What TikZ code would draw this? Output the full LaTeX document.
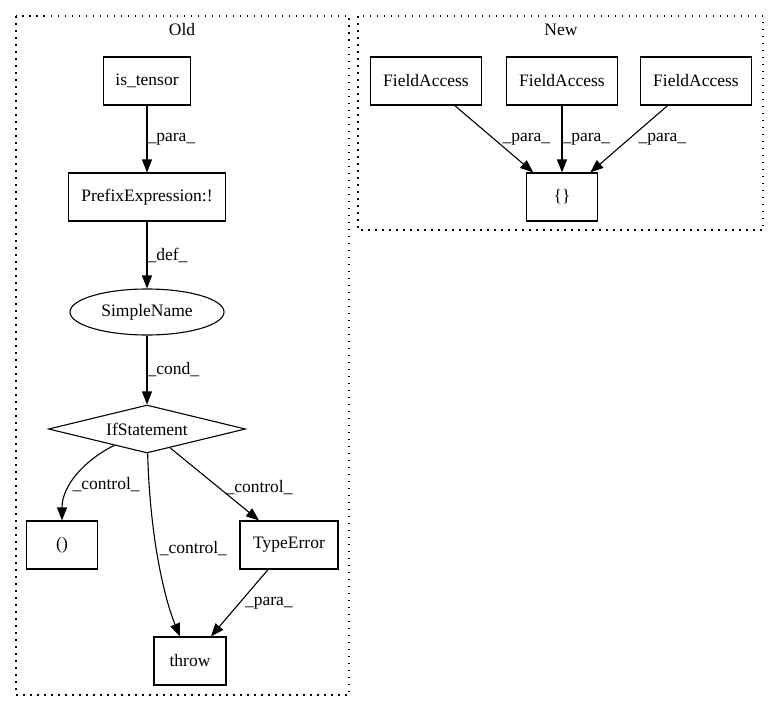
\documentclass[tikz,border=0pt]{standalone}
\usepackage{fontspec}
\setmainfont{Liberation Serif}
\usetikzlibrary{shapes.geometric,arrows.meta}

\begin{document}
\begin{tikzpicture}[x=1pt,y=-1pt,font=\fontsize{17.5}{20}\selectfont,line width=1.1pt,
 box/.style={draw, minimum height=48pt, inner sep=0pt},
 cluster/.style={draw, line width=1.1pt, dash pattern=on 1.5pt off 5.5pt},
 lbl/.style={anchor=west, inner sep=0pt},
 >={Triangle[length=13pt,width=10pt]}]
\useasboundingbox (0,0) rectangle (779,712);
% clusters
\draw[cluster] (16,16) rectangle (349,695);
\node (old) at (182,30) {Old};
\draw[cluster] (358,16) rectangle (763,230);
\node (new) at (561,30) {New};
% old graph
\node[box, minimum width=87pt] (ist) at (147,81) {is\_tensor};
\node[box, minimum width=157pt] (pre) at (147,197) {PrefixExpression:!};
\node[draw, ellipse, minimum width=154pt, minimum height=46pt, inner sep=0pt] (sn) at (147,312) {SimpleName};
\node[draw, diamond, aspect=4, minimum width=197pt, minimum height=48pt, inner sep=0pt] (ifs) at (147,429) {IfStatement};
\node[box, minimum width=71pt] (par) at (62,545) {()};
\node[box, minimum width=98pt] (te) at (289,545) {TypeError};
\node[box, minimum width=72pt] (thr) at (190,661) {throw};
\draw[->] (ist) -- node[lbl] {\_para\_} (pre);
\draw[->] (pre) -- node[lbl] {\_def\_} (sn);
\draw[->] (sn) -- node[lbl] {\_cond\_} (ifs);
\draw[->] (ifs) .. controls (85,460) and (62,485) .. node[lbl, pos=.62, xshift=1pt] {\_control\_} (par);
\draw[->] (ifs) .. controls (150,540) and (165,600) .. node[lbl, pos=.42, xshift=3pt] {\_control\_} (thr);
\draw[->] (ifs) -- node[lbl, pos=.55, xshift=6pt] {\_control\_} (te);
\draw[->] (te) -- node[lbl, xshift=5pt] {\_para\_} (thr);
% new graph
\node[box, minimum width=111pt] (fa1) at (426,81) {FieldAccess};
\node[box, minimum width=111pt] (fa2) at (562,81) {FieldAccess};
\node[box, minimum width=111pt] (fa3) at (696,81) {FieldAccess};
\node[box, minimum width=71pt] (cb) at (562,197) {\{\}};
\draw[->] (fa1) -- node[lbl, xshift=8pt] {\_para\_} (cb);
\draw[->] (fa2) -- node[lbl] {\_para\_} (cb);
\draw[->] (fa3) -- node[lbl, xshift=9pt] {\_para\_} (cb);
\end{tikzpicture}
\end{document}
